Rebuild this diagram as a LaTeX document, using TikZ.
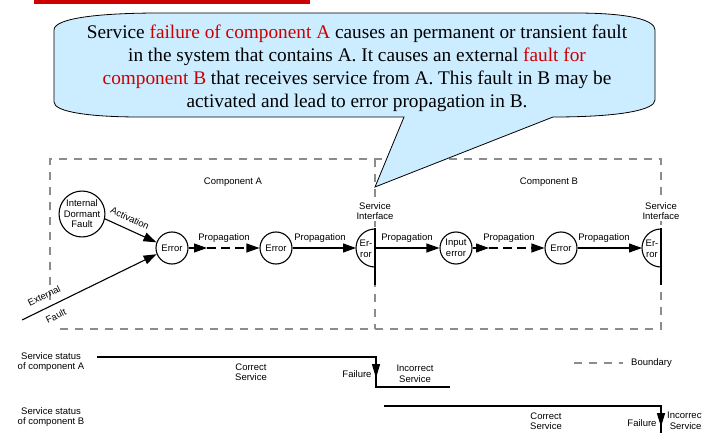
\documentclass[tikz,border=0pt]{standalone}
\usepackage{fontspec}
\setmainfont{Liberation Serif}
\setsansfont{Liberation Sans}
\usetikzlibrary{arrows.meta}
\definecolor{calloutblue}{HTML}{CCECFF}
\definecolor{alertred}{HTML}{CC0000}
\definecolor{boundgray}{HTML}{8C8C8C}

\begin{document}
\begin{tikzpicture}[x=1pt,y=-1pt,
  lbl/.style={font=\sffamily\fontsize{9.5}{10.5}\selectfont, align=center, inner sep=0pt},
  state/.style={circle, draw, line width=1.1pt, inner sep=0pt, minimum size=32pt, lbl},
  flow/.style={line width=1.1pt, -{Triangle[length=13pt,width=9pt]}},
  dflow/.style={flow, dash pattern=on 9pt off 5pt},
  boundary/.style={boundgray, line width=1.2pt, dash pattern=on 8pt off 7pt},
  status/.style={line width=1.4pt},
  drop/.style={line width=1.4pt, -{Triangle[length=14pt,width=8pt]}},
  note/.style={font=\fontsize{19.3}{23}\selectfont, inner sep=0pt, anchor=base},
  iface/.style={line width=1.1pt}
]
\useasboundingbox (0,0) rectangle (702,433);

% red title bar
\fill[alertred] (34,0) rectangle (310,4);

% component boundaries
\draw[boundary] (50,300) -- (50,159) -- (661,159) -- (661,329) -- (60,329);
\draw[boundary] (375,159) -- (375,329);
\node[lbl] (compA) at (233,182) {Component A};
\node[lbl] (compB) at (549,182) {Component B};

% service interfaces
\node[lbl, fill=white, inner sep=1pt] (si1) at (375,211) {Service\\Interface};
\node[lbl, fill=white, inner sep=1pt] (si2) at (661,211) {Service\\Interface};
\draw[iface] (375,228) -- (375,285);
\draw[iface] (661,228) -- (661,285);
\draw[iface] (375,229) arc[start angle=90, end angle=270, radius=19pt];
\draw[iface] (661,229) arc[start angle=90, end angle=270, radius=19pt];
\node[lbl] (er1) at (366,249) {Er-\\ror};
\node[lbl] (er2) at (652,249) {Er-\\ror};
\coordinate (s1w) at (356,248);
\coordinate (s1e) at (375,248);
\coordinate (s2w) at (642,248);

% fault and error states
\node[state, minimum size=42pt] (idf) at (82,214) {Internal\\Dormant\\Fault};
\node[state] (e1) at (172,248) {Error};
\node[state] (e2) at (276,248) {Error};
\node[state] (ie) at (456,248) {Input\\error};
\node[state] (e3) at (561,248) {Error};

% activation and external fault
\draw[flow] (idf.-12) -- (e1.160);
\node[lbl, rotate=-25] (act) at (130,218) {Activation};
\coordinate (ext) at (22,320);
\draw[flow] (ext) -- (e1.202);
\node[lbl, rotate=26] (extl) at (44,296) {External};
\node[lbl, rotate=26] (faultl) at (56,316) {Fault};

% propagation chain
\coordinate (m1) at (207,248);
\draw[flow] (e1) -- (m1);
\draw[dflow] (m1) -- (e2);
\node[lbl] (p1) at (224,238) {Propagation};
\draw[flow] (e2) -- (s1w);
\node[lbl] (p2) at (320,238) {Propagation};
\draw[flow] (s1e) -- (ie);
\node[lbl] (p3) at (407,238) {Propagation};
\coordinate (m2) at (489,248);
\draw[flow] (ie) -- (m2);
\draw[dflow] (m2) -- (e3);
\node[lbl] (p4) at (509,238) {Propagation};
\draw[flow] (e3) -- (s2w);
\node[lbl] (p5) at (604,238) {Propagation};

% service status of component A
\node[lbl] (stA) at (51,362) {Service status\\of component A};
\coordinate (a0) at (97,357);
\coordinate (a1) at (376,357);
\coordinate (a2) at (376,387);
\coordinate (a3) at (450,387);
\coordinate (af) at (376,378);
\draw[status] (a0) -- (a1) -- (a2) -- (a3);
\draw[drop] (a1) -- (af);
\node[lbl] (okA) at (251,372) {Correct\\Service};
\node[lbl] (failA) at (357,374) {Failure};
\node[lbl] (badA) at (415,374) {Incorrect\\Service};

% legend
\coordinate (lg0) at (574,363);
\coordinate (lg1) at (623,363);
\draw[boundary] (lg0) -- (lg1);
\node[lbl, anchor=west] (lgt) at (631,363) {Boundary};

% service status of component B
\node[lbl] (stB) at (51,417) {Service status\\of component B};
\coordinate (b0) at (384,406);
\coordinate (b1) at (661,406);
\coordinate (b2) at (661,440);
\coordinate (bf) at (661,427);
\draw[status] (b0) -- (b1) -- (b2);
\draw[drop] (b1) -- (bf);
\node[lbl] (okB) at (546,421) {Correct\\Service};
\node[lbl] (failB) at (642,423) {Failure};
\node[lbl, anchor=west] (badB) at (667,421) {Incorrect\\Service};

% callout
\path[fill=calloutblue, draw=black, line width=0.8pt]
  (54,30) .. controls (54,18) and (100,13) .. (160,13)
  -- (575,13) .. controls (630,13) and (655,20) .. (655,30)
  -- (655,100) .. controls (655,110) and (620,117) .. (553,117)
  -- (375,187) -- (404,117)
  -- (140,117) .. controls (90,117) and (54,112) .. (54,102) -- cycle;
\node[note] (l1) at (357,39) {Service \textcolor{alertred}{failure of component A} causes an permanent or transient fault};
\node[note] (l2) at (357,62) {in the system that contains A. It causes an external \textcolor{alertred}{fault for}};
\node[note] (l3) at (357,85) {\textcolor{alertred}{component B} that receives service from A. This fault in B may be};
\node[note] (l4) at (357,108) {activated and lead to error propagation in B.};
\end{tikzpicture}
\end{document}
